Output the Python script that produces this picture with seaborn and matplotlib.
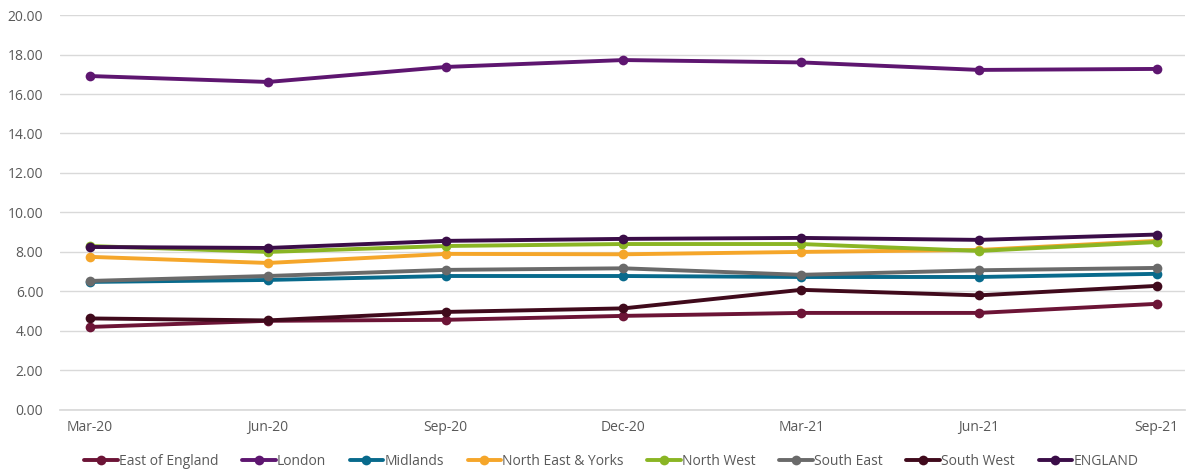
import matplotlib
matplotlib.use("Agg")
import matplotlib.pyplot as plt
import seaborn as sns
import pandas as pd

quarters = ["Mar-20", "Jun-20", "Sep-20", "Dec-20", "Mar-21", "Jun-21", "Sep-21"]
east_of_england = [4.20, 4.51, 4.56, 4.76, 4.91, 4.91, 5.37]
london = [16.91, 16.61, 17.37, 17.72, 17.60, 17.22, 17.27]
midlands = [6.48, 6.58, 6.78, 6.78, 6.73, 6.73, 6.89]
north_east_yorks = [7.75, 7.44, 7.90, 7.88, 8.00, 8.10, 8.56]
north_west = [8.30, 8.00, 8.30, 8.40, 8.40, 8.05, 8.50]
south_east = [6.53, 6.78, 7.09, 7.17, 6.84, 7.07, 7.19]
south_west = [4.63, 4.53, 4.96, 5.14, 6.08, 5.80, 6.28]
england = [8.25, 8.20, 8.56, 8.66, 8.71, 8.61, 8.88]

series = {
    "East of England": east_of_england,
    "London": london,
    "Midlands": midlands,
    "North East & Yorks": north_east_yorks,
    "North West": north_west,
    "South East": south_east,
    "South West": south_west,
    "ENGLAND": england,
}
colors = {
    "East of England": "#6C1436",
    "London": "#5E1670",
    "Midlands": "#086A8C",
    "North East & Yorks": "#F5A62A",
    "North West": "#8AB524",
    "South East": "#6A6A6A",
    "South West": "#400A1C",
    "ENGLAND": "#3B0D48",
}

rows = []
for name, vals in series.items():
    for i, (q, v) in enumerate(zip(quarters, vals)):
        rows.append({"idx": i, "Quarter": q, "Region": name, "Value": v})
df = pd.DataFrame(rows)

sns.set_theme(style="white")
plt.rcParams["font.family"] = ["Open Sans", "DejaVu Sans"]

fig = plt.figure(figsize=(11.87, 4.70), dpi=100)
ax = fig.add_axes([0.0505, 0.128, 0.948, 0.84])

sns.lineplot(data=df, x="idx", y="Value", hue="Region", palette=colors,
             hue_order=list(series.keys()), marker="o", markersize=7,
             markeredgewidth=0, linewidth=2.8, ax=ax, legend=True)

ax.set_ylim(0, 20)
ax.set_yticks([i * 2 for i in range(11)])
ax.set_yticklabels([f"{i*2:.2f}" for i in range(11)])
ax.set_xlim(-0.17, 6.16)
ax.set_xticks(range(len(quarters)))
ax.set_xticklabels(quarters)
ax.set_xlabel("")
ax.set_ylabel("")
ax.grid(axis="y", color="#D9D9D9", linewidth=1)
ax.set_axisbelow(True)
for s in ["top", "right", "left"]:
    ax.spines[s].set_visible(False)
ax.spines["bottom"].set_color("#D9D9D9")
ax.tick_params(axis="both", length=0, labelsize=10, colors="#595959")
ax.tick_params(axis="y", pad=12)
ax.tick_params(axis="x", pad=7)

handles, labels = ax.get_legend_handles_labels()
ax.legend(handles, labels, loc="upper center", bbox_to_anchor=(0.49, -0.08),
          ncol=8, frameon=False, fontsize=10, labelcolor="#595959",
          handlelength=2.4, handletextpad=0.1, columnspacing=1.7)

fig.savefig("out.png", dpi=100, facecolor="white")
